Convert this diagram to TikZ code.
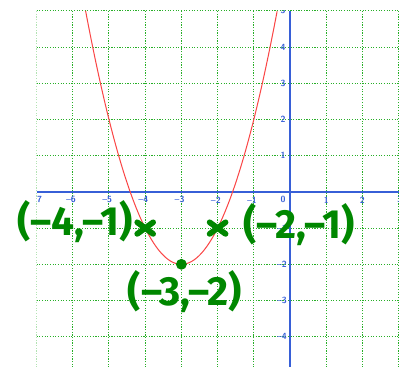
\documentclass[tikz,border=0pt]{standalone}
\usepackage{fontspec}
\newfontfamily\handfont{Fira Sans}

\definecolor{gridgreen}{RGB}{40,175,40}
\definecolor{axisblue}{RGB}{55,95,215}
\definecolor{curvered}{RGB}{250,70,70}
\definecolor{penGreen}{RGB}{0,135,0}

\tikzset{
  ticklab/.style={text=axisblue, font=\sffamily\bfseries\fontsize{7}{7}\selectfont, inner sep=0pt},
  handlab/.style={text=penGreen, font=\handfont\bfseries\fontsize{32}{32}\selectfont, inner sep=0pt},
  xmark/.style={draw=penGreen, line width=4.5pt, line cap=round}
}

\begin{document}
\begin{tikzpicture}[scale=1, >=latex]
        \useasboundingbox (-8.01,-4.83) rectangle (3.01,5.30);
        \begin{scope}
        \clip (-7,-4.83) rectangle (3.01,5);
        % ==== GRID ====
        \draw[gridgreen, dash pattern=on 0.9pt off 1.2pt, line width=0.8pt] (-7,-5) grid (4,5);
        % ==== AXES ====
        \draw[axisblue, line width=1pt] (-7,0) -- (3.1,0);
        \draw[axisblue, line width=1pt] (0,-5) -- (0,5);
        % ==== PARABOLA ====
        \draw[curvered, line width=0.8pt, samples=200, domain={-3-sqrt(7)}:{-3+sqrt(7)}]
            plot(\x,{(\x+3)^2-2});
        % ==== TICK LABELS ====
        \node[ticklab] (xm7) at (-6.92,-0.22) {7};
        \node[ticklab] (xm6) at (-6.05,-0.22) {--6};
        \node[ticklab] (xm5) at (-5.05,-0.22) {--5};
        \node[ticklab] (xm4) at (-4.05,-0.22) {--4};
        \node[ticklab] (xm3) at (-3.05,-0.22) {--3};
        \node[ticklab] (xm2) at (-2.05,-0.22) {--2};
        \node[ticklab] (xm1) at (-1.05,-0.22) {--1};
        \node[ticklab] (o) at (-0.19,-0.22) {0};
        \node[ticklab] (x1) at (1,-0.22) {1};
        \node[ticklab] (x2) at (2,-0.22) {2};
        \node[ticklab] (x3) at (3.03,-0.22) {3};
        \node[ticklab, anchor=east] (y5) at (-0.12,5) {5};
        \node[ticklab, anchor=east] (y4) at (-0.12,4) {4};
        \node[ticklab, anchor=east] (y3) at (-0.12,3) {3};
        \node[ticklab, anchor=east] (y2) at (-0.12,2) {2};
        \node[ticklab, anchor=east] (y1) at (-0.12,1) {1};
        \node[ticklab, anchor=east] (ym1) at (-0.08,-1) {--1};
        \node[ticklab, anchor=east] (ym2) at (-0.08,-2) {--2};
        \node[ticklab, anchor=east] (ym3) at (-0.08,-3) {--3};
        \node[ticklab, anchor=east] (ym4) at (-0.08,-4) {--4};
        \end{scope}
        % ==== MARKED POINTS ====
        \coordinate (pl) at (-4,-1);
        \coordinate (pr) at (-2,-1);
        \draw[xmark] ([shift={(-0.22,0.16)}]pl) -- ([shift={(0.22,-0.16)}]pl);
        \draw[xmark] ([shift={(-0.22,-0.16)}]pl) -- ([shift={(0.22,0.16)}]pl);
        \draw[xmark] ([shift={(-0.22,0.16)}]pr) -- ([shift={(0.22,-0.16)}]pr);
        \draw[xmark] ([shift={(-0.22,-0.16)}]pr) -- ([shift={(0.22,0.16)}]pr);
        \fill[penGreen] (-3,-2) circle (0.15);
        % ==== HANDWRITTEN LABELS ====
        \node[handlab] (lab4) at (-5.94,-0.83) {(–4,–1)};
        \node[handlab] (lab2) at (0.25,-0.91) {(–2,–1)};
        \node[handlab] (lab3) at (-2.9,-2.76) {(–3,–2)};
\end{tikzpicture}
\end{document}
